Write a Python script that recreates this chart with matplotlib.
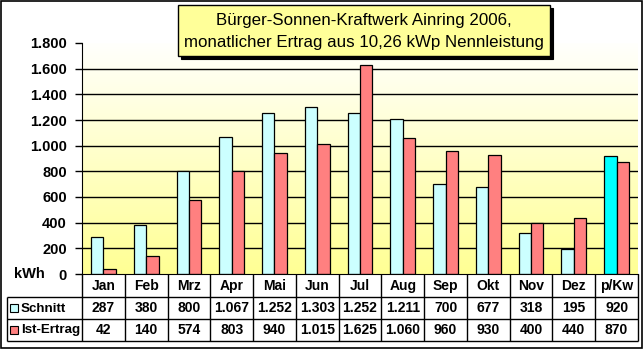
import matplotlib
matplotlib.use('Agg')
import matplotlib.pyplot as plt
import numpy as np
from matplotlib.patches import Rectangle
from matplotlib.ticker import FuncFormatter, FixedLocator

# ---------------- data ----------------
months = ['Jan', 'Feb', 'Mrz', 'Apr', 'Mai', 'Jun', 'Jul', 'Aug', 'Sep', 'Okt', 'Nov', 'Dez', 'p/Kw']
schnitt = [287, 380, 800, 1067, 1252, 1303, 1252, 1211, 700, 677, 318, 195, 920]
ist_ertrag = [42, 140, 574, 803, 940, 1015, 1625, 1060, 960, 930, 400, 440, 870]
series_names = ['Schnitt', 'Ist-Ertrag']
y_ticks = [0, 200, 400, 600, 800, 1000, 1200, 1400, 1600, 1800]
grid_values = [200, 400, 600, 800, 1000, 1200, 1400, 1600]
y_unit = 'kWh'
title_lines = ['Bürger-Sonnen-Kraftwerk Ainring 2006,',
               'monatlicher Ertrag aus 10,26 kWp Nennleistung']

# ---------------- style ----------------
FONT = 'Liberation Sans'
c_schnitt = '#CCFFFF'
c_schnitt_last = '#00FFFF'
c_ist = '#FF8080'


def de(v):
    return f'{v:,}'.replace(',', '.')


W, H = 644, 352
fig = plt.figure(figsize=(W / 100, H / 100), dpi=100)
fig.patch.set_facecolor('white')


def px(x0, y0, x1, y1):
    return [x0 / W, 1 - y1 / H, (x1 - x0) / W, (y1 - y0) / H]


L, R, T, B = 82, 638, 43, 274
ax = fig.add_axes(px(L, T, R, B))
ax.set_xlim(-0.5, len(months) - 0.5)
ax.set_ylim(0, 1800)

# gradient background (white top -> yellow bottom)
g = np.linspace(0, 1, 256).reshape(-1, 1)
top = np.array([1.0, 1.0, 0.99])
bot = np.array([1.0, 1.0, 0.58])
img = top[None, None, :] * (1 - g[..., None]) + bot[None, None, :] * g[..., None]
ax.imshow(img, extent=[0, 1, 0, 1], transform=ax.transAxes, aspect='auto',
          origin='upper', zorder=0)
ax.patch.set_visible(False)

for gv in grid_values:
    ax.axhline(gv, color='black', lw=1, zorder=1)

x = np.arange(len(months))
bw = 0.29
cols_s = [c_schnitt] * (len(months) - 1) + [c_schnitt_last]
ax.bar(x - bw / 2, schnitt, width=bw, color=cols_s, edgecolor='black', lw=0.9, zorder=2)
ax.bar(x + bw / 2, ist_ertrag, width=bw, color=c_ist, edgecolor='black', lw=0.9, zorder=2)

for s in ['top', 'right']:
    ax.spines[s].set_visible(False)
ax.spines['left'].set_color('black')
ax.spines['bottom'].set_color('black')
ax.set_xticks([])
ax.yaxis.set_major_locator(FixedLocator(y_ticks))
ax.yaxis.set_major_formatter(FuncFormatter(lambda v, p: de(int(v))))
ax.tick_params(axis='y', direction='out', length=5, width=1, pad=6,
               labelsize=10.5, colors='black')
for lab in ax.get_yticklabels():
    lab.set_fontfamily(FONT)
    lab.set_fontweight('bold')

# ---------------- overlay: table, title, border ----------------
ov = fig.add_axes([0, 0, 1, 1])
ov.set_xlim(0, W)
ov.set_ylim(H, 0)
ov.axis('off')
ov.patch.set_alpha(0)

kw = dict(color='black', lw=1, solid_capstyle='butt')
row_y = [274, 297, 319, 341]
LL = 7
col_w = (R - L) / len(months)
for i in range(len(months) + 1):
    xx = L + i * col_w
    ov.plot([xx, xx], [row_y[0], row_y[-1]], **kw)
ov.plot([LL, LL], [row_y[1], row_y[-1]], **kw)
for yy in row_y[1:]:
    ov.plot([LL, R], [yy, yy], **kw)

tfont = dict(family=FONT, weight='bold', size=10, ha='center', va='center')
for i, m in enumerate(months):
    cx = L + (i + 0.5) * col_w
    ov.text(cx, (row_y[0] + row_y[1]) / 2 + 0.5, m, **tfont)
    ov.text(cx, (row_y[1] + row_y[2]) / 2 + 0.5, de(schnitt[i]), **tfont)
    ov.text(cx, (row_y[2] + row_y[3]) / 2 + 0.5, de(ist_ertrag[i]), **tfont)

for k, (name, col) in enumerate(zip(series_names, [c_schnitt, c_ist])):
    cy = (row_y[k + 1] + row_y[k + 2]) / 2
    ov.add_patch(Rectangle((10, cy - 4), 8, 8, facecolor=col, edgecolor='black', lw=0.8))
    ov.text(21, cy + 0.5, name, family=FONT, weight='bold', size=9.6, ha='left', va='center')

ov.text(29, B, y_unit, family=FONT, weight='bold', size=10.5, ha='center', va='center')

# title box with shadow
bx0, by0, bx1, by1 = 178, 5, 550, 56
ov.add_patch(Rectangle((bx0 + 3, by0 + 3), bx1 - bx0, by1 - by0, facecolor='black',
                       edgecolor='black', lw=0.8, zorder=3))
ov.add_patch(Rectangle((bx0, by0), bx1 - bx0, by1 - by0, facecolor='#FFFF99',
                       edgecolor='black', lw=1, zorder=4))
ov.text((bx0 + bx1) / 2, 20, title_lines[0], family=FONT, size=12.2, ha='center',
        va='center', zorder=5)
ov.text((bx0 + bx1) / 2, 42, title_lines[1], family=FONT, size=12.2, ha='center',
        va='center', zorder=5)

# outer chart border
ov.add_patch(Rectangle((1, 1), 641, 347, facecolor='none', edgecolor='black', lw=1.2))

fig.savefig('out.png', dpi=100)
